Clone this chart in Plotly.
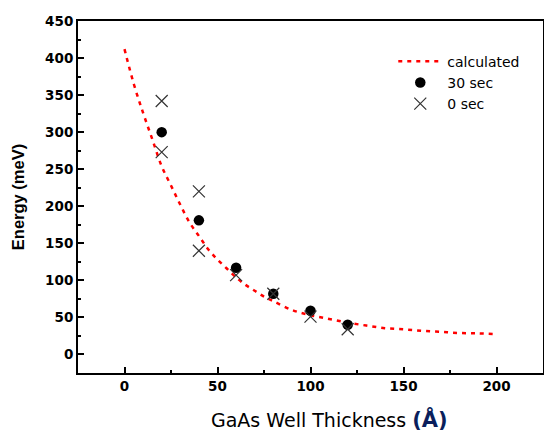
import plotly.graph_objects as go

# Calculated curve
calc_x = [0, 5, 10, 15, 20, 25, 30, 35, 40, 45, 50, 55, 60, 65, 70, 75, 80, 90,
          100, 110, 120, 130, 140, 150, 160, 170, 180, 190, 200]
calc_y = [412, 365, 326, 290, 254, 228, 202, 178, 160, 142, 128, 116, 104, 94, 86, 78, 72, 60,
          53, 48, 43, 39, 35.5, 34, 32, 30.5, 29, 28.5, 27.5]

# 30 sec data
s30_x = [20, 40, 60, 80, 100, 120]
s30_y = [300, 181, 117, 82, 59, 40]

# 0 sec data
s0_x = [20, 20, 40, 40, 60, 80, 100, 120]
s0_y = [342, 273, 220, 140, 107, 82, 51, 34]

x_ticks = [0, 50, 100, 150, 200]
y_ticks = [0, 50, 100, 150, 200, 250, 300, 350, 400, 450]

fig = go.Figure()
fig.add_trace(go.Scatter(
    x=calc_x, y=calc_y, mode="lines", name="calculated",
    line=dict(color="#ff0000", width=2.5, dash="4px,5px", shape="spline"),
))
fig.add_trace(go.Scatter(
    x=s30_x, y=s30_y, mode="markers", name="30 sec",
    marker=dict(symbol="circle", size=10.5, color="black"),
))
fig.add_trace(go.Scatter(
    x=s0_x, y=s0_y, mode="markers", name="0 sec",
    marker=dict(symbol="x-thin", size=12, color="#333333",
                line=dict(color="#333333", width=1.2)),
))

tickfont = dict(family="DejaVu Sans, Verdana, sans-serif", size=13.5, color="black", weight="bold")

axis_common = dict(
    showline=True, linecolor="black", linewidth=2, mirror=True,
    showgrid=False, zeroline=False, automargin=False,
    ticks="inside", ticklen=6, tickwidth=2, tickcolor="black",
    tickfont=tickfont,
)

fig.update_xaxes(
    range=[-25, 225], tickvals=x_ticks,
    minor=dict(ticks="inside", ticklen=3, tickwidth=2, dtick=25, tick0=0, tickcolor="black"),
    **axis_common,
)
fig.update_yaxes(
    range=[-25, 450], tickvals=y_ticks,
    minor=dict(ticks="inside", ticklen=3, tickwidth=2, dtick=25, tick0=0, tickcolor="black"),
    title=dict(text="<b>Energy (meV)</b>",
               font=dict(family="Liberation Sans, Arial, sans-serif", size=16.5, color="black"),
               standoff=16),
    **axis_common,
)

fig.add_annotation(
    xref="paper", yref="paper", x=0.541, y=-0.1335,
    xanchor="center", yanchor="middle", showarrow=False,
    text="GaAs Well Thickness <span style='font-size:21px;color:#0a1f5c'><b>(Å)</b></span>",
    font=dict(family="DejaVu Sans, Verdana, sans-serif", size=19, color="black"),
)

fig.update_layout(
    width=544, height=431,
    margin=dict(l=78, r=1, t=21, b=58),
    paper_bgcolor="white", plot_bgcolor="white",
    showlegend=True,
    legend=dict(x=0.678, y=0.93, xanchor="left", yanchor="top",
                bgcolor="rgba(0,0,0,0)", borderwidth=0,
                font=dict(family="DejaVu Sans, Verdana, sans-serif", size=14, color="black"),
                itemwidth=44, tracegroupgap=0),
)

fig.write_html(
    "out.html",
    config={"displayModeBar": False},
    post_script="document.body.style.margin='0';document.body.style.overflow='hidden';",
)
